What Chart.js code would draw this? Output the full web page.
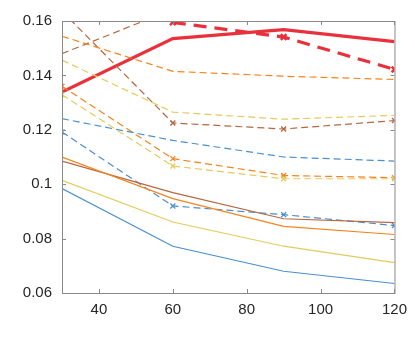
<!DOCTYPE html>
<html>
<head>
<meta charset="utf-8">
<script src="https://cdn.jsdelivr.net/npm/chart.js@4"></script>
<style>
  html, body { margin: 0; padding: 0; background: #fff; }
  #wrap { width: 415px; height: 340px; }
</style>
</head>
<body>
<div id="wrap"><canvas id="chart" width="415" height="340"></canvas></div>
<script>
// x waarden
const xValues = [30, 60, 90, 120];
const xTicks = [40, 60, 80, 100, 120];
const yTicks = [0.06, 0.08, 0.1, 0.12, 0.14, 0.16];

// getrokken lijnen (dun)
const blueSolid = [0.0984, 0.0772, 0.068, 0.0635];
const yellowSolid = [0.1014, 0.0861, 0.0772, 0.0712];
const orangeSolid = [0.110, 0.0947, 0.0845, 0.0815];
const brownSolid = [0.1085, 0.0969, 0.0873, 0.0859];

// gestreepte lijnen met kruisjes
const blueCross = [0.1192, 0.092, 0.0888, 0.0848];
const orangeCross = [0.136, 0.1094, 0.1032, 0.1024];
const yellowCross = [0.1329, 0.1067, 0.102, 0.102];
const brownCross = [0.1636, 0.1225, 0.1203, 0.1234];

// gestreepte lijnen zonder markers
const brownDash = [0.148, 0.1643, 0.168, 0.171];
const orangeDash = [0.1544, 0.1415, 0.1397, 0.1385];
const yellowDash = [0.1456, 0.1265, 0.1239, 0.1253];
const blueDash = [0.1241, 0.1161, 0.110, 0.1085];

// dikke rode lijnen
const redSolid = [0.1339, 0.1535, 0.1568, 0.1524];
const redCross = [null, 0.1595, 0.1541, 0.1422];

const BLUE = "#4a8fcd";
const ORANGE = "#f5841f";
const YELLOW = "#e3cb5c";
const BROWN = "#b5673f";
const RED = "#e8313a";

const toPoints = (arr) => xValues.map((x, i) => ({ x, y: arr[i] }));

function line(data, color, opts = {}) {
  return Object.assign({
    data: toPoints(data),
    borderColor: color,
    backgroundColor: color,
    borderWidth: 1.2,
    pointRadius: 0,
    pointStyle: "crossRot",
    pointBorderWidth: 1.3,
    tension: 0,
    fill: false,
    spanGaps: false,
  }, opts);
}

const dashThin = [7, 4];
const crossOpts = (dash) => ({ borderDash: dash, pointRadius: 3.5 });

// Kader + ticks naar binnen
const boxPlugin = {
  id: "box",
  afterDraw(chart) {
    const { ctx, chartArea: a, scales } = chart;
    ctx.save();
    ctx.strokeStyle = "#8a8a8a";
    ctx.lineWidth = 1;
    ctx.strokeRect(a.left + 0.5, a.top + 0.5, a.right - a.left, a.bottom - a.top);
    const len = 4;
    ctx.beginPath();
    xTicks.forEach((v) => {
      const px = Math.round(scales.x.getPixelForValue(v)) + 0.5;
      ctx.moveTo(px, a.bottom); ctx.lineTo(px, a.bottom - len);
      ctx.moveTo(px, a.top); ctx.lineTo(px, a.top + len);
    });
    yTicks.forEach((v) => {
      const py = Math.round(scales.y.getPixelForValue(v)) + 0.5;
      ctx.moveTo(a.left, py); ctx.lineTo(a.left + len, py);
      ctx.moveTo(a.right, py); ctx.lineTo(a.right - len, py);
    });
    ctx.stroke();
    ctx.restore();
  },
};

new Chart(document.getElementById("chart").getContext("2d"), {
  type: "line",
  data: {
    datasets: [
      line(blueSolid, BLUE),
      line(yellowSolid, YELLOW),
      line(orangeSolid, ORANGE),
      line(brownSolid, BROWN),
      line(blueDash, BLUE, { borderDash: dashThin }),
      line(yellowDash, YELLOW, { borderDash: dashThin }),
      line(orangeDash, ORANGE, { borderDash: dashThin }),
      line(brownDash, BROWN, { borderDash: dashThin }),
      line(blueCross, BLUE, crossOpts(dashThin)),
      line(yellowCross, YELLOW, crossOpts(dashThin)),
      line(orangeCross, ORANGE, crossOpts(dashThin)),
      line(brownCross, BROWN, crossOpts(dashThin)),
      line(redSolid, RED, { borderWidth: 3.2 }),
      line(redCross, RED, { borderWidth: 3.2, borderDash: [13, 8], pointRadius: 4, pointBorderWidth: 2.5 }),
    ],
  },
  options: {
    responsive: false,
    animation: false,
    layout: { padding: { left: 0, right: 14, top: 21, bottom: 0 } },
    plugins: { legend: { display: false }, tooltip: { enabled: false } },
    scales: {
      x: {
        type: "linear",
        min: 30,
        max: 120,
        afterFit: (s) => { s.height = 47; },
        afterBuildTicks: (s) => { s.ticks = xTicks.map((v) => ({ value: v })); },
        grid: { display: false, drawTicks: false },
        border: { display: false },
        ticks: {
          color: "#262626",
          font: { family: "Liberation Sans", size: 15 },
          padding: 8,
          maxRotation: 0,
        },
      },
      y: {
        min: 0.06,
        max: 0.16,
        afterFit: (s) => { s.width = 62; },
        afterBuildTicks: (s) => { s.ticks = yTicks.map((v) => ({ value: v })); },
        grid: { display: false, drawTicks: false },
        border: { display: false },
        ticks: {
          color: "#262626",
          font: { family: "Liberation Sans", size: 15 },
          padding: 10,
          callback: (v) => String(Math.round(v * 100) / 100),
        },
      },
    },
  },
  plugins: [boxPlugin],
});
</script>
</body>
</html>
